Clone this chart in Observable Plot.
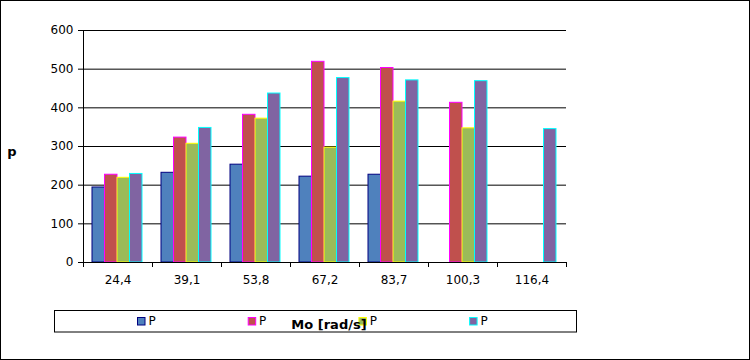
<!DOCTYPE html>
<html>
<head>
<meta charset="utf-8">
<script src="https://cdn.jsdelivr.net/npm/d3@7"></script>
<script src="https://cdn.jsdelivr.net/npm/@observablehq/plot@0.6"></script>
<style>
  html, body { margin: 0; padding: 0; background: white; }
  #chart { width: 750px; height: 360px; }
  #chart svg, #chart svg text { font-family: "DejaVu Sans", sans-serif !important; }
  #chart svg [aria-label$="tick label"] text { font-size: 12px !important; }
</style>
</head>
<body>
<div id="chart"></div>
<script>
// ---- data ----
const categories = ["24,4", "39,1", "53,8", "67,2", "83,7", "100,3", "116,4"];
const seriesNames = ["P", "P", "P", "P"];
const series1 = [194, 232, 253, 222, 227, null, null];
const series2 = [227, 323, 382, 519, 503, 413, null];
const series3 = [219, 307, 372, 297, 416, 347, null];
const series4 = [229, 348, 437, 477, 471, 469, 345];
const yTicks = [0, 100, 200, 300, 400, 500, 600];
const xTitle = "Mo [rad/s]";
const yTitle = "p";

// ---- styles ----
const fills = ["#4F81BD", "#C0504D", "#9BBB59", "#8064A2"];
const strokes = ["#000080", "#FF00FF", "#FFFF00", "#00FFFF"];
const W = 750, H = 360;
const mL = 83, mR = 184, mT = 30, mB = 98;
const bw = (W - mL - mR) / categories.length;   // band width (px)
const padL = 9, barW = 12.5;
const pxPerUnit = (H - mT - mB) / 600;
const tickUnits = 5 / pxPerUnit;

const allSeries = [series1, series2, series3, series4];

const barMarks = allSeries.map((vals, i) => {
  const rows = categories.map((c, j) => ({cat: c, value: vals[j]})).filter(d => d.value != null);
  return Plot.barY(rows, {
    x: "cat", y: "value",
    fill: fills[i], stroke: strokes[i], strokeWidth: 1,
    insetLeft: padL + i * barW,
    insetRight: bw - padL - (i + 1) * barW
  });
});

const chart = Plot.plot({
  width: W, height: H,
  marginLeft: mL, marginRight: mR, marginTop: mT, marginBottom: mB,
  style: {fontFamily: "DejaVu Sans", fontSize: "12px", background: "white", color: "black"},
  x: {domain: categories, padding: 0, tickSize: 0, tickPadding: 13, label: null},
  y: {domain: [0, 600], ticks: yTicks, tickSize: 5, tickPadding: 5, label: null, tickFormat: d => String(d)},
  marks: [
    Plot.ruleY(yTicks, {stroke: "black", strokeWidth: 1}),
    ...barMarks,
    // category boundary ticks
    Plot.ruleX(categories, {x: d => d, dx: -bw / 2, y1: 0, y2: -tickUnits, stroke: "black"}),
    Plot.ruleX([categories[categories.length - 1]], {x: d => d, dx: bw / 2, y1: 0, y2: -tickUnits, stroke: "black"}),
    // left axis line
    Plot.ruleX([categories[0]], {x: d => d, dx: -bw / 2, y1: 0, y2: 600, stroke: "black"}),
    Plot.ruleY([0], {stroke: "black"})
  ]
});

const svg = d3.select(chart);
svg.style("overflow", "visible");

// legend
const lg = svg.append("g");
lg.append("rect").attr("x", 54.5).attr("y", 310.5).attr("width", 522).attr("height", 21.5)
  .attr("fill", "white").attr("stroke", "black");
seriesNames.forEach((name, i) => {
  const x0 = 137.5 + i * 110.7;
  lg.append("rect").attr("x", x0).attr("y", 317.5).attr("width", 7.5).attr("height", 7.5)
    .attr("fill", fills[i]).attr("stroke", strokes[i]);
  lg.append("text").attr("x", x0 + 14.5).attr("y", 325).attr("fill", "black")
    .style("font-size", "12px").text(name);
});

// axis titles
svg.append("text").attr("x", 329).attr("y", 329).attr("text-anchor", "middle")
  .style("font-size", "13px").attr("font-weight", "bold")
  .attr("fill", "black").text(xTitle);
svg.append("text").attr("x", 12).attr("y", 156)
  .style("font-size", "13px").attr("font-weight", "bold")
  .attr("fill", "black").text(yTitle);

// outer border
svg.append("rect").attr("x", 0.5).attr("y", 0.5).attr("width", W - 1).attr("height", H - 1)
  .attr("fill", "none").attr("stroke", "black");

document.getElementById("chart").appendChild(chart);
</script>
</body>
</html>
